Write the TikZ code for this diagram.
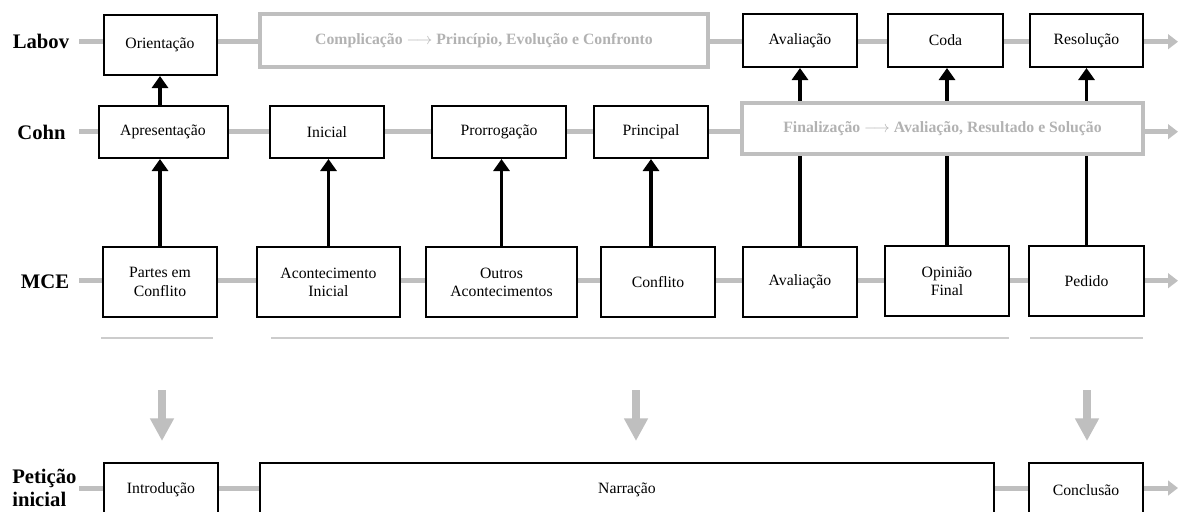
\documentclass[tikz,border=0pt]{standalone}
\usepackage{fontspec}
\setmainfont{Liberation Serif}
\usetikzlibrary{arrows.meta,backgrounds}

\definecolor{rowgray}{RGB}{191,191,191}
\definecolor{spangray}{RGB}{204,204,204}
\definecolor{labelgray}{RGB}{178,178,178}

\begin{document}
\begin{tikzpicture}[x=0.75pt,y=-0.75pt,
  box/.style={draw=black,line width=1.5pt,fill=white,align=center,inner sep=0pt,
    font=\fontsize{11.8}{13.7}\selectfont},
  graybox/.style={box,draw=rowgray,line width=3pt,text=labelgray,
    font=\fontsize{11.8}{13.7}\selectfont\bfseries},
  boxw/.style={minimum width=#1*0.75pt},
  boxh/.style={minimum height=#1*0.75pt},
  rowlabel/.style={align=center,inner sep=0pt,font=\fontsize{15.5}{17.25}\selectfont\bfseries},
  rowline/.style={draw=rowgray,line width=3.75pt,-{Triangle[length=7.5pt,width=11pt]}},
  feed/.style={draw=black,line width=2.5pt,-{Triangle[length=9pt,width=12pt]}},
  merge/.style={draw=rowgray,line width=6pt,-{Triangle[length=17pt,width=17pt]}},
  span/.style={draw=spangray,line width=2pt}]
  \useasboundingbox (0,0) rectangle (1178,511);

  \node[rowlabel] (labov) at (41,41) {Labov};
  \node[rowlabel] (cohn) at (41.5,132) {Cohn};
  \node[rowlabel] (mce) at (45,282) {MCE};
  \node[rowlabel,align=left,anchor=west] (peticao) at (12,488) {Petição\\inicial};

  \node[box,boxw=113,boxh=60] (orient) at (160,45) {Orientação};
  \node[graybox,boxw=448,boxh=53] (complic) at (484,40.5) {Complicação $\longrightarrow$ Princípio, Evolução e Confronto};
  \node[box,boxw=114,boxh=53] (avallabov) at (800,40.5) {Avaliação};
  \node[box,boxw=115,boxh=53] (coda) at (945.5,40.5) {Coda};
  \node[box,boxw=113,boxh=53] (resol) at (1086.5,40.5) {Resolução};

  \node[box,boxw=129,boxh=52] (apres) at (163,132) {Apresentação};
  \node[box,boxw=114,boxh=52] (inicial) at (327,132) {Inicial};
  \node[box,boxw=134,boxh=52] (prorrog) at (499,132) {Prorrogação};
  \node[box,boxw=114,boxh=52] (principal) at (651,132) {Principal};
  \node[graybox,boxw=401,boxh=51] (final) at (942.5,128.5) {Finalização $\longrightarrow$ Avaliação, Resultado e Solução};

  \node[box,boxw=114,boxh=70] (partes) at (160,282) {Partes em\\Conflito};
  \node[box,boxw=143,boxh=70] (acont) at (328.5,282) {Acontecimento\\Inicial};
  \node[box,boxw=151,boxh=70] (outros) at (501.5,282) {Outros\\Acontecimentos};
  \node[box,boxw=114,boxh=70] (conflito) at (658,282) {Conflito};
  \node[box,boxw=114,boxh=70] (avalmce) at (800,282) {Avaliação};
  \node[box,boxw=124,boxh=70] (opiniao) at (947,281) {Opinião\\Final};
  \node[box,boxw=115,boxh=70] (pedido) at (1086.5,281) {Pedido};

  \node[box,boxw=114,boxh=55] (intro) at (161,490) {Introdução};
  \node[box,boxw=734,boxh=55] (narr) at (627,490) {Narração};
  \node[box,boxw=114,boxh=55] (concl) at (1086,490) {Conclusão};

  \coordinate (labovstart) at (79,41.7);
  \coordinate (labovend) at (1178,41.7);
  \coordinate (cohnstart) at (79,131.7);
  \coordinate (cohnend) at (1178,131.7);
  \coordinate (mcestart) at (79,280.7);
  \coordinate (mceend) at (1178,280.7);
  \coordinate (petstart) at (79,488);
  \coordinate (petend) at (1178,488);

  \begin{pgfonlayer}{background}
    \draw[rowline] (labovstart) -- (labovend);
    \draw[rowline] (cohnstart) -- (cohnend);
    \draw[rowline] (mcestart) -- (mceend);
    \draw[rowline] (petstart) -- (petend);

    \draw[feed] (orient.south |- apres.north) -- (orient.south);
    \draw[feed] (partes.north) -- (partes.north |- apres.south);
    \draw[feed] (acont.north) -- (acont.north |- inicial.south);
    \draw[feed] (outros.north) -- (outros.north |- prorrog.south);
    \draw[feed] (principal.south |- conflito.north) -- (principal.south);
    \draw[feed] (avalmce.north) -- (avalmce.north |- avallabov.south);
    \draw[feed] (opiniao.north) -- (opiniao.north |- coda.south);
    \draw[feed] (pedido.north) -- (pedido.north |- resol.south);
  \end{pgfonlayer}

  \draw[span] (101,338) -- (213,338);
  \draw[span] (271,338) -- (1009,338);
  \draw[span] (1030,338) -- (1143,338);

  \draw[merge] (162,390) -- (162,441);
  \draw[merge] (636,390) -- (636,441);
  \draw[merge] (1087,390) -- (1087,441);
\end{tikzpicture}
\end{document}
